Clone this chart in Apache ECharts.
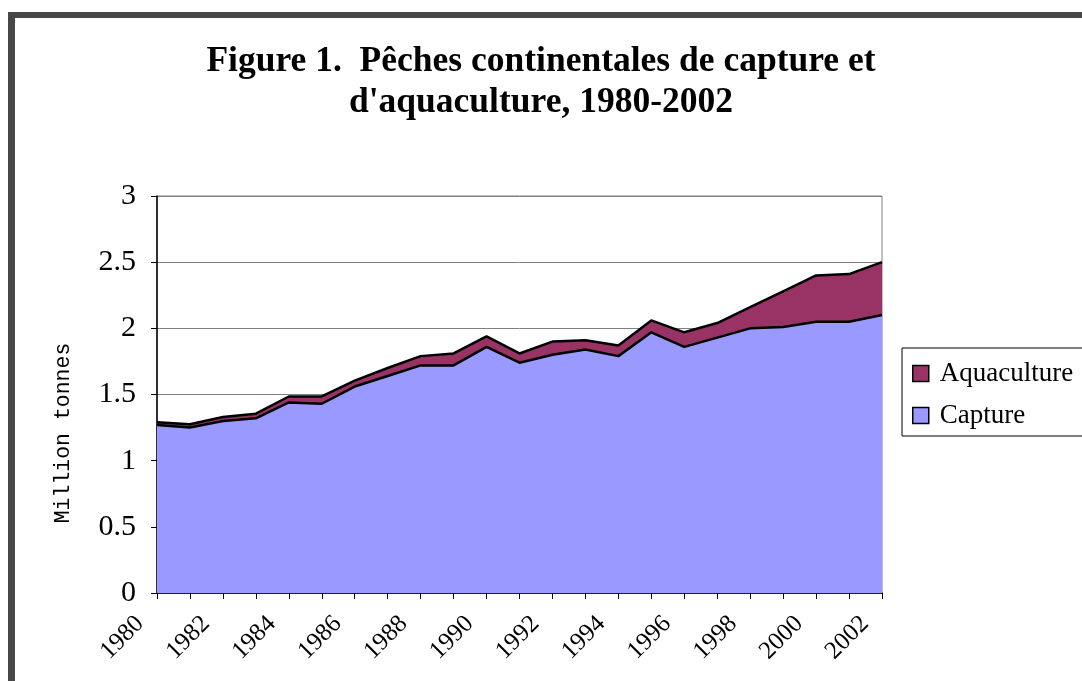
<!DOCTYPE html>
<html>
<head>
<meta charset="utf-8">
<script src="https://cdn.jsdelivr.net/npm/echarts@6/dist/echarts.min.js"></script>
<style>
  html, body { margin: 0; padding: 0; background: #fff; }
  #chart { width: 1082px; height: 681px; }
</style>
</head>
<body>
<div id="chart"></div>
<script>
// Data (million tonnes)
const years = [
  '1980', '1981', '1982', '1983', '1984', '1985', '1986', '1987',
  '1988', '1989', '1990', '1991', '1992', '1993', '1994', '1995',
  '1996', '1997', '1998', '1999', '2000', '2001', '2002'
];
const capture = [
  1.27, 1.25, 1.30, 1.32, 1.44, 1.43, 1.56, 1.64,
  1.72, 1.72, 1.86, 1.74, 1.80, 1.84, 1.79, 1.97,
  1.86, 1.93, 2.00, 2.01, 2.05, 2.05, 2.10
];
const aquaculture = [
  0.02, 0.025, 0.03, 0.035, 0.045, 0.055, 0.045, 0.06,
  0.07, 0.09, 0.08, 0.07, 0.10, 0.07, 0.08, 0.09,
  0.11, 0.11, 0.16, 0.27, 0.35, 0.36, 0.40
];

const serif = '"Liberation Serif", "Times New Roman", serif';
const frameColor = '#474747';

const chart = echarts.init(document.getElementById('chart'));

const option = {
  backgroundColor: '#fff',
  animation: false,
  title: {
    text: 'Figure 1.  Pêches continentales de capture et\nd\'aquaculture, 1980-2002',
    left: 'center',
    top: 36,
    textStyle: {
      fontFamily: serif,
      fontWeight: 'bold',
      fontSize: 35.5,
      lineHeight: 41,
      color: '#000',
    },
  },
  legend: {
    data: ['Aquaculture', 'Capture'],
    orient: 'vertical',
    left: 902,
    top: 348,
    padding: [12, 30, 7, 10],
    itemGap: 15,
    itemWidth: 16,
    itemHeight: 16,
    icon: 'rect',
    borderColor: '#000',
    borderWidth: 1,
    itemStyle: { borderColor: '#000', borderWidth: 1.5 },
    textStyle: { fontFamily: serif, fontSize: 27, color: '#000', padding: [0, 0, 0, 6] },
  },
  grid: {
    left: 157,
    right: 200,
    top: 196,
    bottom: 88,
    show: true,
    borderColor: '#808080',
    borderWidth: 1,
    backgroundColor: '#fff',
  },
  xAxis: {
    type: 'category',
    data: years,
    boundaryGap: false,
    axisLine: { lineStyle: { color: '#000', width: 1.5 } },
    axisTick: { show: true, interval: 0, length: 6, lineStyle: { color: '#000' } },
    axisLabel: {
      interval: 1,
      rotate: 45,
      margin: 10,
      padding: [0, 24, 0, 0],
      fontFamily: serif,
      fontSize: 25,
      color: '#000',
    },
    splitLine: { show: false },
  },
  yAxis: {
    type: 'value',
    min: 0,
    max: 3,
    interval: 0.5,
    axisLine: { show: true, lineStyle: { color: '#000', width: 1.5 } },
    axisTick: { show: true, length: 6, lineStyle: { color: '#000' } },
    axisLabel: {
      margin: 21,
      fontFamily: serif,
      fontSize: 30,
      color: '#000',
    },
    splitLine: { show: true, lineStyle: { color: '#808080', width: 1 } },
  },
  graphic: [
    // chart frame (top and left edges are visible in the reference)
    { type: 'rect', shape: { x: 8, y: 12, width: 1074, height: 6 }, style: { fill: frameColor }, silent: true },
    { type: 'rect', shape: { x: 8, y: 12, width: 7, height: 669 }, style: { fill: frameColor }, silent: true },
    {
      type: 'text',
      x: 63,
      y: 433,
      rotation: Math.PI / 2,
      style: {
        text: 'Million tonnes',
        font: '21.5px "Liberation Mono", "DejaVu Sans Mono", monospace',
        fill: '#000',
        align: 'center',
        verticalAlign: 'middle',
      },
      silent: true,
    },
  ],
  series: [
    {
      name: 'Capture',
      type: 'line',
      stack: 'total',
      data: capture,
      showSymbol: false,
      symbol: 'none',
      z: 3,
      itemStyle: { color: '#9999FF' },
      lineStyle: { color: '#000', width: 2.5 },
      areaStyle: { color: '#9999FF', opacity: 1 },
    },
    {
      name: 'Aquaculture',
      type: 'line',
      stack: 'total',
      data: aquaculture,
      showSymbol: false,
      symbol: 'none',
      z: 2,
      itemStyle: { color: '#993366' },
      lineStyle: { color: '#000', width: 2.5 },
      areaStyle: { color: '#993366', opacity: 1 },
    },
  ],
};

chart.setOption(option);
</script>
</body>
</html>
